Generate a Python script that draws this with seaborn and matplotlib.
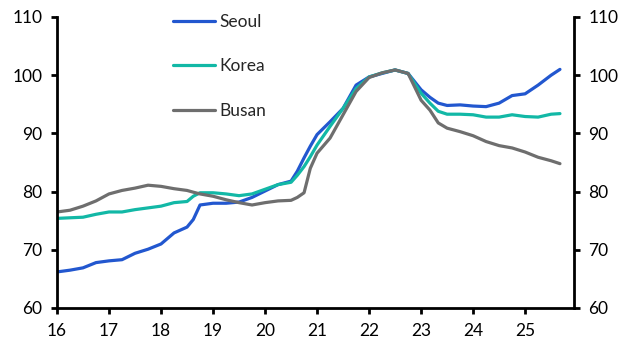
import numpy as np
import pandas as pd
import matplotlib
matplotlib.use("Agg")
import matplotlib.pyplot as plt
import seaborn as sns

# time axis in years (16 = 2016)
years = [16.0, 16.25, 16.5, 16.75, 17.0, 17.25, 17.5, 17.75, 18.0, 18.25,
         18.5, 18.62, 18.75, 19.0, 19.25, 19.5, 19.75, 20.0, 20.25, 20.5,
         20.62, 20.75, 20.87, 21.0, 21.25, 21.5, 21.75, 22.0, 22.25, 22.5,
         22.75, 23.0, 23.17, 23.33, 23.5, 23.75, 24.0, 24.25, 24.5, 24.75,
         25.0, 25.25, 25.5, 25.67]

seoul = [66.2, 66.5, 66.9, 67.8, 68.1, 68.3, 69.4, 70.1, 71.0, 72.9,
         73.9, 75.2, 77.7, 78.0, 78.0, 78.2, 79.0, 80.1, 81.2, 81.8,
         83.5, 85.8, 87.8, 89.8, 92.0, 94.3, 98.3, 99.7, 100.3, 100.9,
         100.3, 97.5, 96.2, 95.2, 94.8, 94.9, 94.7, 94.6, 95.2, 96.5,
         96.8, 98.3, 100.0, 101.0]

korea = [75.4, 75.5, 75.6, 76.1, 76.5, 76.5, 76.9, 77.2, 77.5, 78.1,
         78.3, 79.2, 79.8, 79.8, 79.6, 79.3, 79.6, 80.4, 81.2, 81.6,
         82.8, 84.3, 86.0, 88.0, 91.2, 94.3, 97.7, 99.7, 100.4, 100.9,
         100.3, 96.9, 95.2, 93.8, 93.3, 93.3, 93.2, 92.8, 92.8, 93.2,
         92.9, 92.8, 93.3, 93.4]

busan = [76.5, 76.8, 77.5, 78.4, 79.6, 80.2, 80.6, 81.1, 80.9, 80.5,
         80.2, 79.9, 79.6, 79.2, 78.6, 78.1, 77.7, 78.1, 78.4, 78.5,
         79.0, 79.8, 84.0, 86.6, 89.2, 93.2, 97.2, 99.6, 100.4, 100.9,
         100.3, 95.7, 94.0, 91.8, 90.9, 90.3, 89.6, 88.6, 87.9, 87.5,
         86.8, 85.9, 85.3, 84.8]

series_names = ["Seoul", "Korea", "Busan"]
colors = ["#2257CF", "#12B8A6", "#6E6E6E"]

x_ticks = list(range(16, 26))
y_ticks = [60, 70, 80, 90, 100, 110]

df = pd.DataFrame({"year": years, "Seoul": seoul, "Korea": korea, "Busan": busan})
long_df = df.melt(id_vars="year", var_name="series", value_name="value")

sns.set_style("ticks")
plt.rcParams["font.family"] = ["Lato", "DejaVu Sans"]

fig = plt.figure(figsize=(6.31, 3.57), dpi=100)
ax = fig.add_axes([57 / 631, 1 - 308 / 357, (574 - 57) / 631, (308 - 17) / 357])

sns.lineplot(
    data=long_df, x="year", y="value", hue="series",
    hue_order=series_names, palette=colors,
    linewidth=2.3, ax=ax
)

ax.set_xlim(16, 25.94)
ax.set_ylim(60, 110)
ax.set_xticks(x_ticks)
ax.set_xticklabels([str(t) for t in x_ticks])
ax.set_yticks(y_ticks)
ax.set_xlabel("")
ax.set_ylabel("")

for side in ["left", "right", "bottom"]:
    ax.spines[side].set_visible(True)
    ax.spines[side].set_linewidth(2)
    ax.spines[side].set_color("black")
ax.spines["top"].set_visible(False)

ax.tick_params(axis="both", direction="out", length=4.5, width=2,
               labelsize=12.5, colors="black", pad=6)
ax.tick_params(axis="y", right=True, labelright=True)

ax.legend(
    loc="upper left", bbox_to_anchor=(0.195, 1.065),
    frameon=False, fontsize=12.5, handlelength=2.4,
    handletextpad=0.25, labelspacing=1.65
)

fig.savefig("out.png", dpi=100)
